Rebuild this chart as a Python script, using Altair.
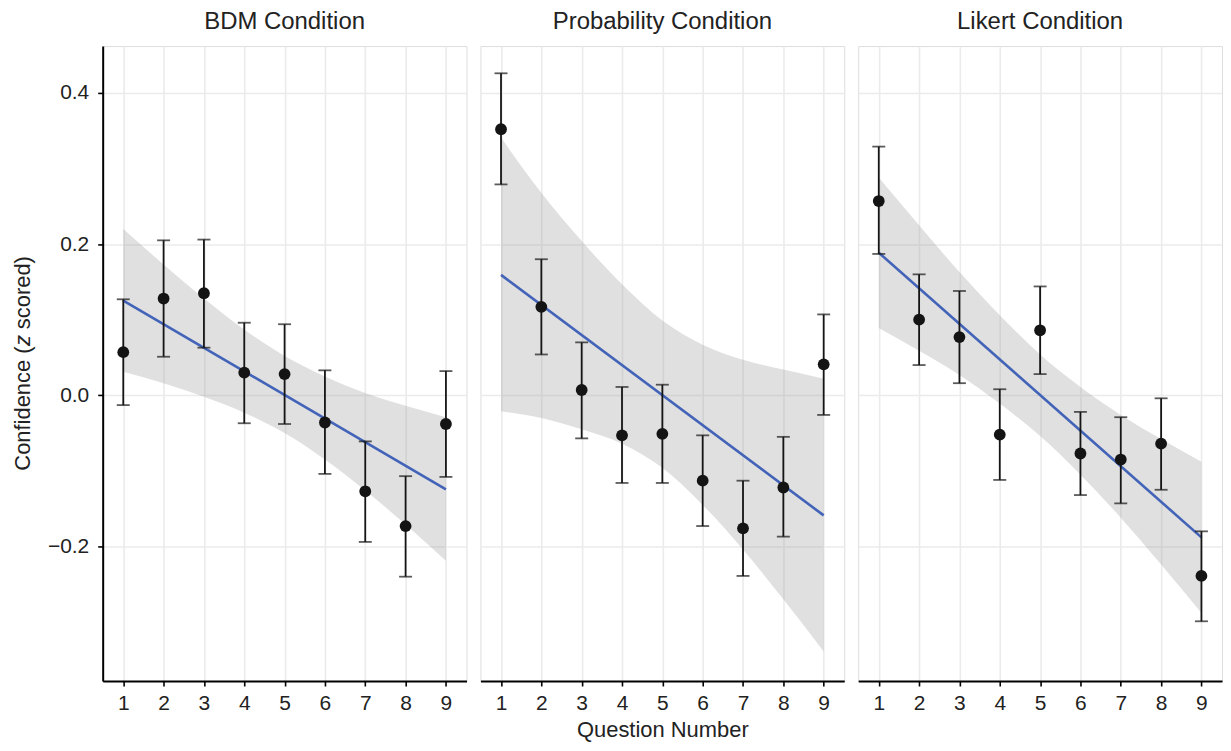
import altair as alt
import pandas as pd

FONT = "Liberation Sans, Arial, Helvetica, sans-serif"

questions = [1, 2, 3, 4, 5, 6, 7, 8, 9]
conditions = ["BDM Condition", "Probability Condition", "Likert Condition"]

bdm_mean = [0.057, 0.128, 0.135, 0.030, 0.028, -0.036, -0.127, -0.173, -0.038]
bdm_hi = [0.127, 0.205, 0.206, 0.096, 0.094, 0.033, -0.061, -0.107, 0.032]
bdm_lo = [-0.013, 0.051, 0.063, -0.037, -0.038, -0.104, -0.194, -0.240, -0.108]
bdm_band_hi = [0.220, 0.173, 0.128, 0.087, 0.052, 0.025, 0.003, -0.014, -0.029]
bdm_band_lo = [0.031, 0.016, -0.002, -0.023, -0.050, -0.085, -0.126, -0.171, -0.219]

prob_mean = [0.352, 0.117, 0.007, -0.053, -0.051, -0.113, -0.176, -0.122, 0.041]
prob_hi = [0.426, 0.180, 0.070, 0.011, 0.014, -0.053, -0.113, -0.055, 0.107]
prob_lo = [0.279, 0.054, -0.057, -0.116, -0.116, -0.173, -0.239, -0.187, -0.026]
prob_band_hi = [0.341, 0.268, 0.204, 0.147, 0.099, 0.067, 0.047, 0.034, 0.022]
prob_band_lo = [-0.021, -0.030, -0.045, -0.064, -0.096, -0.145, -0.204, -0.270, -0.339]

lik_mean = [0.257, 0.100, 0.077, -0.052, 0.086, -0.077, -0.085, -0.064, -0.239]
lik_hi = [0.329, 0.160, 0.138, 0.008, 0.144, -0.022, -0.029, -0.004, -0.180]
lik_lo = [0.187, 0.040, 0.016, -0.112, 0.028, -0.132, -0.143, -0.125, -0.299]
lik_band_hi = [0.288, 0.225, 0.163, 0.106, 0.054, 0.011, -0.026, -0.058, -0.088]
lik_band_lo = [0.089, 0.059, 0.027, -0.011, -0.054, -0.105, -0.162, -0.224, -0.288]

y_ticks = [-0.2, 0.0, 0.2, 0.4]

series = {
    conditions[0]: (bdm_mean, bdm_lo, bdm_hi, bdm_band_lo, bdm_band_hi),
    conditions[1]: (prob_mean, prob_lo, prob_hi, prob_band_lo, prob_band_hi),
    conditions[2]: (lik_mean, lik_lo, lik_hi, lik_band_lo, lik_band_hi),
}

rows = []
for cond, (m, lo, hi, blo, bhi) in series.items():
    for i, q in enumerate(questions):
        rows.append({"cond": cond, "q": q, "mean": m[i], "lo": lo[i], "hi": hi[i],
                     "band_lo": blo[i], "band_hi": bhi[i]})
df = pd.DataFrame(rows)

xscale = alt.Scale(domain=[0.49, 9.51], nice=False, zero=False)
yscale = alt.Scale(domain=[-0.378, 0.462], nice=False, zero=False)

TXT = "#222222"
GRID = "#ebebeb"


def make_panel(cond, first, middle):
    xaxis = alt.Axis(values=questions, grid=True, gridColor=GRID, gridWidth=1.6,
                     domainColor="black", domainWidth=2, tickColor="black",
                     tickWidth=1.6, tickSize=5, labelFontSize=21, labelColor=TXT,
                     labelFont=FONT, labelPadding=7, labelFlush=False,
                     title="Question Number" if middle else None,
                     titleFontSize=22, titleFont=FONT, titleFontWeight="normal",
                     titleColor=TXT, titlePadding=6)
    if first:
        yaxis = alt.Axis(values=y_ticks, grid=True, gridColor=GRID, gridWidth=1.6,
                         domainColor="black", domainWidth=2, tickColor="black",
                         tickWidth=1.6, tickSize=5, labelFontSize=21, labelColor=TXT,
                         labelFont=FONT, labelPadding=9, format=".1f", title=None,
                         labelFlush=False)
    else:
        yaxis = alt.Axis(values=y_ticks, grid=True, gridColor=GRID, gridWidth=1.6,
                         domain=False, ticks=False, labels=False, title=None)

    X = alt.X("q:Q", scale=xscale, axis=xaxis, title="Question Number" if middle else None)
    base = alt.Chart(df).transform_filter(alt.datum.cond == cond)

    band = base.mark_area(color="#999999", opacity=0.3, interpolate="monotone").encode(
        x=X,
        y=alt.Y("band_lo:Q", scale=yscale, axis=yaxis, title=None),
        y2="band_hi:Q",
    )
    line = base.transform_regression("q", "mean", extent=[1, 9]).mark_line(
        color="#4263b8", strokeWidth=2.6).encode(
        x=X, y=alt.Y("mean:Q", scale=yscale, axis=yaxis, title=None))
    rule = base.mark_rule(color="#151515", strokeWidth=1.8).encode(
        x=X, y=alt.Y("lo:Q", scale=yscale, axis=yaxis, title=None), y2="hi:Q")
    cap_hi = base.mark_tick(orient="horizontal", size=13, thickness=1.8, color="#151515").encode(
        x=X, y=alt.Y("hi:Q", scale=yscale, axis=yaxis, title=None))
    cap_lo = base.mark_tick(orient="horizontal", size=13, thickness=1.8, color="#151515").encode(
        x=X, y=alt.Y("lo:Q", scale=yscale, axis=yaxis, title=None))
    pts = base.mark_circle(size=140, color="#141414", opacity=1).encode(
        x=X, y=alt.Y("mean:Q", scale=yscale, axis=yaxis, title=None))

    layers = [band, line, rule, cap_hi, cap_lo, pts]

    if first:
        tdf = pd.DataFrame({"t": ["Confidence ("]})
        zdf = pd.DataFrame({"t": ["z"]})
        sdf = pd.DataFrame({"t": ["scored)"]})
        common = dict(angle=270, align="left", baseline="middle", fontSize=22,
                      font=FONT, color=TXT)
        t1 = alt.Chart(tdf).mark_text(**common).encode(
            text="t:N", x=alt.value(-80), y=alt.value(426))
        t2 = alt.Chart(zdf).mark_text(fontStyle="italic", **common).encode(
            text="t:N", x=alt.value(-80), y=alt.value(301))
        t3 = alt.Chart(sdf).mark_text(**common).encode(
            text="t:N", x=alt.value(-80), y=alt.value(284))
        layers += [t1, t2, t3]

    return alt.layer(*layers).properties(
        width=365, height=637,
        title=alt.TitleParams(cond, fontSize=24, font=FONT, fontWeight="normal",
                              color=TXT, anchor="middle", offset=12),
    )


chart = alt.hconcat(
    make_panel(conditions[0], True, False),
    make_panel(conditions[1], False, True),
    make_panel(conditions[2], False, False),
    spacing=12,
).properties(
    padding={"left": 3, "top": 0, "right": 0, "bottom": 0}
).configure_view(stroke=None).configure(background="white")

chart.save("out.html", embed_options={"renderer": "svg", "actions": False})
